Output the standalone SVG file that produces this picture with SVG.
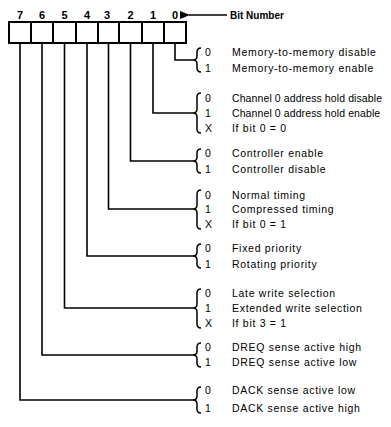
<svg xmlns="http://www.w3.org/2000/svg" width="391" height="427" viewBox="0 0 391 427">
<style>
  .bg{fill:#fff}
  .cell{fill:#fff;stroke:#000;stroke-width:2}
  .num{font-family:"Liberation Sans",Arial,sans-serif;font-size:11px;font-weight:bold;fill:#000;text-anchor:middle}
  .title{font-family:"Liberation Sans",Arial,sans-serif;font-size:10px;font-weight:bold;fill:#000}
  .v{font-family:"Liberation Sans",Arial,sans-serif;font-size:10.5px;fill:#000}
  .t{font-family:"Liberation Sans",Arial,sans-serif;font-size:10.5px;letter-spacing:0.7px;fill:#000}
  .tn{font-family:"Liberation Sans",Arial,sans-serif;font-size:10.5px;letter-spacing:0.1px;fill:#000}
  .wire{fill:none;stroke:#000;stroke-width:1.6}
  .brace{fill:none;stroke:#000;stroke-width:1.5}
</style>
<defs>
  <marker id="ah" markerWidth="10" markerHeight="8" refX="1" refY="4" orient="auto-start-reverse" markerUnits="userSpaceOnUse">
    <path d="M0,4 L10,0 L10,8 Z" fill="#000"/>
  </marker>
</defs>
<rect class="bg" x="0" y="0" width="391" height="427"/>

<g id="register">
  <rect class="cell" x="9" y="22" width="22" height="21"/>
  <rect class="cell" x="31" y="22" width="22" height="21"/>
  <rect class="cell" x="53" y="22" width="23" height="21"/>
  <rect class="cell" x="76" y="22" width="22" height="21"/>
  <rect class="cell" x="98" y="22" width="21" height="21"/>
  <rect class="cell" x="119" y="22" width="23" height="21"/>
  <rect class="cell" x="142" y="22" width="22" height="21"/>
  <rect class="cell" x="164" y="22" width="22" height="21"/>
  <text class="num" x="20" y="19">7</text>
  <text class="num" x="42" y="19">6</text>
  <text class="num" x="64.5" y="19">5</text>
  <text class="num" x="87" y="19">4</text>
  <text class="num" x="107" y="19">3</text>
  <text class="num" x="130.5" y="19">2</text>
  <text class="num" x="153" y="19">1</text>
  <text class="num" x="175" y="19">0</text>
</g>

<g id="bit-number-label">
  <line class="wire" x1="227" y1="15" x2="189" y2="15" marker-end="url(#ah)"/>
  <text class="title" x="230" y="19">Bit Number</text>
</g>

<g id="connectors">
  <path class="wire" d="M175,43 V60 H193"/>
  <path class="wire" d="M153,43 V113 H193"/>
  <path class="wire" d="M130.5,43 V161 H193"/>
  <path class="wire" d="M108.5,43 V209 H193"/>
  <path class="wire" d="M87,43 V256 H193"/>
  <path class="wire" d="M64.5,43 V308 H193"/>
  <path class="wire" d="M42,43 V355 H193"/>
  <path class="wire" d="M20,43 V400 H193"/>
</g>

<g id="bit0">
  <path class="brace" d="M201,48 Q197,48 197,52 L197,56 Q197,60 193,60 Q197,60 197,64 L197,68 Q197,72 201,72"/>
  <text class="v" x="205" y="55.5">0</text>
  <text class="t" x="232" y="55.5">Memory-to-memory disable</text>
  <text class="v" x="205" y="71.5">1</text>
  <text class="t" x="232" y="71.5">Memory-to-memory enable</text>
</g>

<g id="bit1">
  <path class="brace" d="M201,93 Q197,93 197,97 L197,109 Q197,113 193,113 Q197,113 197,117 L197,129 Q197,133 201,133"/>
  <text class="v" x="205" y="101.5">0</text>
  <text class="tn" x="232" y="101.5">Channel 0 address hold disable</text>
  <text class="v" x="205" y="116.5">1</text>
  <text class="tn" x="232" y="116.5">Channel 0 address hold enable</text>
  <text class="v" x="205" y="131.5">X</text>
  <text class="t" x="232" y="131.5">If bit 0 = 0</text>
</g>

<g id="bit2">
  <path class="brace" d="M201,149 Q197,149 197,153 L197,157 Q197,161 193,161 Q197,161 197,165 L197,169 Q197,173 201,173"/>
  <text class="v" x="205" y="156.5">0</text>
  <text class="t" x="232" y="156.5">Controller enable</text>
  <text class="v" x="205" y="172.5">1</text>
  <text class="t" x="232" y="172.5">Controller disable</text>
</g>

<g id="bit3">
  <path class="brace" d="M201,190 Q197,190 197,194 L197,205 Q197,209 193,209 Q197,209 197,213 L197,225 Q197,229 201,229"/>
  <text class="v" x="205" y="198.5">0</text>
  <text class="t" x="232" y="198.5">Normal timing</text>
  <text class="v" x="205" y="213">1</text>
  <text class="t" x="232" y="213">Compressed timing</text>
  <text class="v" x="205" y="227.5">X</text>
  <text class="t" x="232" y="227.5">If bit 0 = 1</text>
</g>

<g id="bit4">
  <path class="brace" d="M201,244 Q197,244 197,248 L197,252 Q197,256 193,256 Q197,256 197,260 L197,264 Q197,268 201,268"/>
  <text class="v" x="205" y="252">0</text>
  <text class="t" x="232" y="252">Fixed priority</text>
  <text class="v" x="205" y="268">1</text>
  <text class="t" x="232" y="268">Rotating priority</text>
</g>

<g id="bit5">
  <path class="brace" d="M201,289 Q197,289 197,293 L197,304 Q197,308 193,308 Q197,308 197,312 L197,324 Q197,328 201,328"/>
  <text class="v" x="205" y="296.5">0</text>
  <text class="t" x="232" y="296.5">Late write selection</text>
  <text class="v" x="205" y="311.5">1</text>
  <text class="t" x="232" y="311.5">Extended write selection</text>
  <text class="v" x="205" y="326.5">X</text>
  <text class="t" x="232" y="326.5">If bit 3 = 1</text>
</g>

<g id="bit6">
  <path class="brace" d="M201,343 Q197,343 197,347 L197,351 Q197,355 193,355 Q197,355 197,359 L197,363 Q197,367 201,367"/>
  <text class="v" x="205" y="350.5">0</text>
  <text class="t" x="232" y="350.5">DREQ sense active high</text>
  <text class="v" x="205" y="365.5">1</text>
  <text class="t" x="232" y="365.5">DREQ sense active low</text>
</g>

<g id="bit7">
  <path class="brace" d="M201,387 Q197,387 197,391 L197,396 Q197,400 193,400 Q197,400 197,404 L197,409 Q197,413 201,413"/>
  <text class="v" x="205" y="394">0</text>
  <text class="t" x="232" y="394">DACK sense active low</text>
  <text class="v" x="205" y="411.5">1</text>
  <text class="t" x="232" y="411.5">DACK sense active high</text>
</g>
</svg>
